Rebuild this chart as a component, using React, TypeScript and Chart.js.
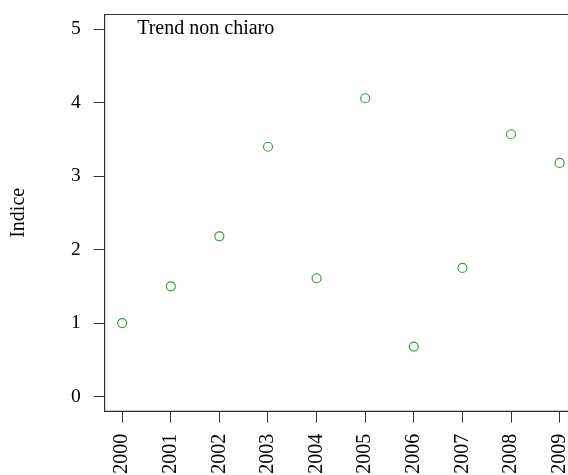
import React, { useEffect, useRef } from "react";
import { Chart, registerables } from "chart.js";

Chart.register(...registerables);

const years: number[] = [2000, 2001, 2002, 2003, 2004, 2005, 2006, 2007, 2008, 2009];
const indexValues: number[] = [1.0, 1.5, 2.18, 3.4, 1.61, 4.06, 0.68, 1.75, 3.57, 3.18];
const yTicks: number[] = [0, 1, 2, 3, 4, 5];
const annotationText = "Trend non chiaro";
const yTitle = "Indice";

const FONT = '"Liberation Serif", "Times New Roman", serif';
const AXIS_COLOR = "#333333";
const POINT_COLOR = "#3f9a3f";

export default function App() {
  const canvasRef = useRef<HTMLCanvasElement | null>(null);

  useEffect(() => {
    const canvas = canvasRef.current;
    if (!canvas) return;

    const boxPlugin = {
      id: "boxAndNote",
      beforeDatasetsDraw(chart: any) {
        const { ctx, chartArea } = chart;
        ctx.save();
        ctx.strokeStyle = AXIS_COLOR;
        ctx.lineWidth = 1;
        ctx.strokeRect(chartArea.left, chartArea.top, chartArea.right - chartArea.left, chartArea.bottom - chartArea.top);
        ctx.fillStyle = "#000";
        ctx.font = `20px ${FONT}`;
        ctx.textAlign = "left";
        ctx.textBaseline = "alphabetic";
        ctx.fillText(annotationText, chartArea.left + 32.5, chartArea.top + 19);
        ctx.restore();
      },
    };

    const chart = new Chart(canvas, {
      type: "scatter",
      data: {
        datasets: [
          {
            data: years.map((y, i) => ({ x: y, y: indexValues[i] })),
            pointStyle: "circle",
            pointRadius: 4.5,
            pointHoverRadius: 4.5,
            pointBorderWidth: 1.2,
            pointBorderColor: POINT_COLOR,
            pointBackgroundColor: "rgba(0,0,0,0)",
          },
        ],
      },
      options: {
        responsive: false,
        animation: false,
        devicePixelRatio: 1,
        layout: { padding: { left: 0, top: 14.5, right: 22.9, bottom: 0 } },
        plugins: {
          legend: { display: false },
          tooltip: { enabled: false },
          title: { display: false },
        },
        scales: {
          x: {
            type: "linear",
            min: years[0] - 0.36,
            max: years[years.length - 1] + 0.36,
            afterBuildTicks: (scale: any) => {
              scale.ticks = years.map((v) => ({ value: v }));
            },
            afterFit: (scale: any) => {
              scale.height = 63.8;
              scale.paddingLeft = 0;
              scale.paddingRight = 0;
            },
            grid: {
              display: true,
              drawOnChartArea: false,
              drawTicks: true,
              tickLength: 11.5,
              color: AXIS_COLOR,
              lineWidth: 1,
            },
            border: { display: true, color: AXIS_COLOR, width: 1 },
            ticks: {
              autoSkip: false,
              maxRotation: 90,
              minRotation: 90,
              padding: 11,
              color: "#000",
              font: { family: FONT, size: 20 },
              callback: (v: any) => String(v),
            },
          },
          y: {
            type: "linear",
            min: -0.2,
            max: 5.2,
            afterBuildTicks: (scale: any) => {
              scale.ticks = yTicks.map((v) => ({ value: v }));
            },
            afterFit: (scale: any) => {
              scale.width = 104.7;
              scale.paddingTop = 0;
              scale.paddingBottom = 0;
            },
            grid: {
              display: true,
              drawOnChartArea: false,
              drawTicks: true,
              tickLength: 11,
              color: AXIS_COLOR,
              lineWidth: 1,
            },
            border: { display: true, color: AXIS_COLOR, width: 1 },
            ticks: {
              padding: 13,
              color: "#000",
              font: { family: FONT, size: 19.5 },
              callback: (v: any) => String(v),
            },
            title: {
              display: true,
              text: yTitle,
              color: "#000",
              font: { family: FONT, size: 20 },
              padding: { top: 7, bottom: 0 },
            },
          },
        },
      },
      plugins: [boxPlugin],
    });

    return () => chart.destroy();
  }, []);

  return (
    <div style={{ position: "fixed", left: 0, top: 0, width: 568, height: 475, overflow: "hidden", background: "#fff" }}>
      <div style={{ position: "relative", width: 600, height: 475 }}>
        <canvas ref={canvasRef} width={600} height={475} style={{ display: "block" }} />
      </div>
    </div>
  );
}
